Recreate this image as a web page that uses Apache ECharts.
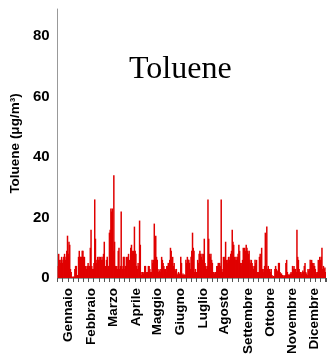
<!DOCTYPE html>
<html>
<head>
<meta charset="utf-8">
<script src="https://cdn.jsdelivr.net/npm/echarts@6/dist/echarts.min.js"></script>
<style>
html,body{margin:0;padding:0;background:#fff;}
#chart{width:327px;height:364px;}
</style>
</head>
<body>
<div id="chart"></div>
<script>
// Daily toluene values (µg/m³), one array per month
var gennaio   = [4, 8, 6, 5, 6, 7, 5, 6, 7, 8, 6, 7, 9, 14, 8, 12, 11, 3, 2, 0.5, 0.3, 0.5, 0.4, 3, 4, 4, 1, 1, 7, 9, 7];
var febbraio  = [7, 7, 9, 9, 7, 7, 4, 4, 3, 4, 5, 4, 4, 10, 16, 4, 3, 3, 5, 26, 13, 5, 6, 7, 6, 7, 6, 7];
var marzo     = [6, 7, 6, 8, 12, 4, 4, 6, 7, 3, 4, 15, 16, 23, 22, 23, 9, 34, 12, 4, 3, 4, 3, 9, 10, 3, 4, 22, 4, 3, 7];
var aprile    = [7, 3, 4, 7, 6, 7, 8, 6, 5, 10, 11, 9, 8, 9, 17, 9, 8, 4, 3, 5, 4, 19, 11, 2, 1, 2, 1.5, 2, 4, 4];
var maggio    = [2, 1.5, 2, 4, 4, 3, 2, 2, 6, 5, 6, 18, 8, 14, 7, 6, 3, 2, 2.5, 3, 2, 7, 6, 5, 4, 3, 3, 2, 4, 4, 5];
var giugno    = [4, 6, 10, 9, 6, 7, 4, 5, 3, 2.5, 3, 1.5, 1, 2, 1.5, 1, 7, 5, 1, 1.5, 1, 1.2, 1, 6, 5, 7, 6, 6, 5, 3];
var luglio    = [7, 9, 15, 10, 9, 2, 3, 2, 2, 6, 5, 8, 9, 8, 7, 8, 6, 8, 13, 5, 4, 3, 4, 26, 13, 8, 7, 8, 6, 5, 2];
var agosto    = [2, 1.5, 2, 2, 4, 4, 5, 4, 5, 4, 26, 3, 2, 7, 6, 7, 12, 6, 5, 6, 7, 6, 7, 8, 9, 16, 12, 11, 7, 6, 7];
var settembre = [6, 7, 8, 11, 9, 5, 4, 5, 6, 10, 9, 10, 9, 11, 10, 9, 8, 9, 6, 5, 6, 5, 4, 3, 4, 6, 5, 6, 2, 2];
var ottobre   = [2, 7, 8, 6, 10, 3, 2, 3, 4, 15, 6, 17, 3, 4, 3, 3, 2, 3, 1, 0.5, 0.7, 0.5, 3, 4, 3, 2, 2.5, 5, 5, 2, 1.5];
var novembre  = [1.5, 1, 1, 0.5, 0.8, 1, 5, 6, 2, 1, 1.2, 1, 1.5, 2, 1.5, 4, 3, 4, 3, 3, 2, 16, 7, 6, 3, 2, 2, 1.5, 2, 2.5];
var dicembre  = [2, 4, 5, 2, 1.5, 1, 3, 2.5, 3, 6, 5, 6, 5, 4, 5, 4, 3, 2, 1.5, 2, 6, 5, 7, 6, 7, 10, 3, 4, 3, 3.5, 2];

var months = ['Gennaio','Febbraio','Marzo','Aprile','Maggio','Giugno','Luglio','Agosto','Settembre','Ottobre','Novembre','Dicembre'];
var monthLabelDay = [14, 45, 75, 106, 135, 167, 197, 226, 259, 289, 318, 348];
var yTicks = [0, 20, 40, 60, 80];

var values = [].concat(gennaio, febbraio, marzo, aprile, maggio, giugno, luglio, agosto, settembre, ottobre, novembre, dicembre);
var days = values.map(function (v, i) { return String(i + 1); });

var chart = echarts.init(document.getElementById('chart'), null, {renderer: 'canvas'});
chart.setOption({
  animation: false,
  backgroundColor: '#fff',
  title: {
    text: 'Toluene',
    left: 124,
    top: 49,
    textStyle: {fontFamily: '"Liberation Serif", "Times New Roman", serif', fontSize: 32, fontWeight: 'normal', color: '#000'}
  },
  grid: {left: 56, right: 1, top: 9, bottom: 86, containLabel: false},
  xAxis: {
    type: 'category',
    data: days,
    boundaryGap: true,
    axisLine: {show: true, lineStyle: {color: '#999', width: 1}},
    axisTick: {
      show: true, length: 4, lineStyle: {color: '#555', width: 1},
      interval: function (index) { return index % 7 === 0; }
    },
    axisLabel: {
      interval: function (index) { return monthLabelDay.indexOf(index) >= 0; },
      formatter: function (value, index) { return months[monthLabelDay.indexOf(index)]; },
      rotate: 90,
      margin: 10,
      fontFamily: '"Liberation Sans", Arial, sans-serif',
      fontWeight: 'bold',
      fontSize: 13.5,
      color: '#000'
    },
    splitLine: {show: false}
  },
  yAxis: {
    type: 'value',
    min: 0,
    max: 89,
    interval: 20,
    name: 'Toluene (\u03bcg/m\u00b3)',
    nameLocation: 'middle',
    nameGap: 35,
    nameTextStyle: {fontFamily: '"Liberation Sans", Arial, sans-serif', fontWeight: 'bold', fontSize: 13.5, color: '#000'},
    axisLine: {show: true, lineStyle: {color: '#999', width: 1}},
    axisTick: {show: false},
    axisLabel: {
      margin: 8,
      fontFamily: '"Liberation Sans", Arial, sans-serif',
      fontWeight: 'bold',
      fontSize: 15,
      color: '#000',
      formatter: function (v) { return yTicks.indexOf(v) >= 0 ? String(v) : ''; }
    },
    splitLine: {show: false}
  },
  series: [{
    type: 'bar',
    data: values,
    barWidth: 1.5,
    itemStyle: {color: '#e00000'}
  }]
});
</script>
</body>
</html>
